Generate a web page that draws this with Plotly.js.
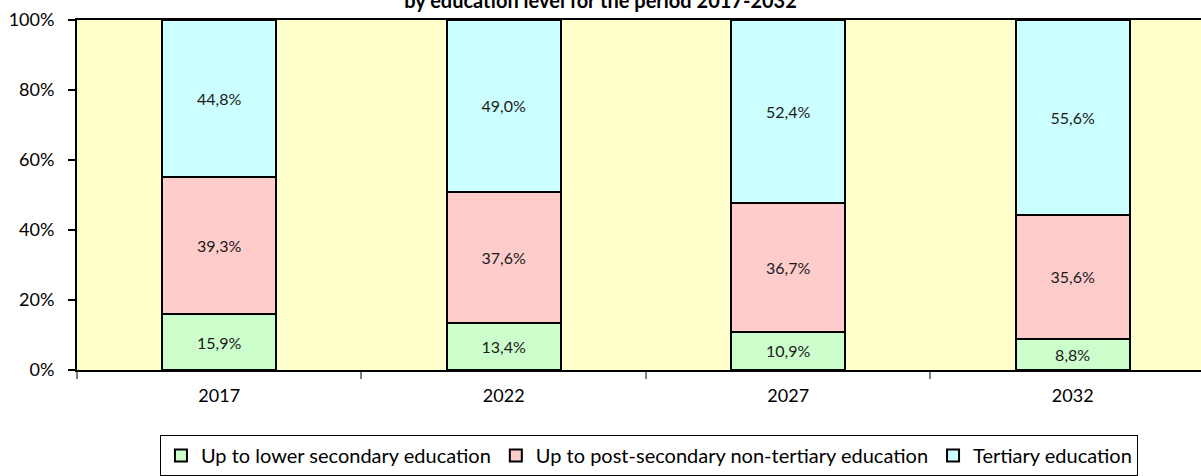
<!DOCTYPE html>
<html>
<head>
<meta charset="utf-8">
<script src="https://cdn.plot.ly/plotly-3.0.1.min.js"></script>
<style>html,body{margin:0;padding:0;background:#fff;overflow:hidden}</style>
</head>
<body>
<div id="chart" style="width:1201px;height:476px"></div>
<script>
const years = ['2017', '2022', '2027', '2032'];
const lowerSecondary = [15.9, 13.4, 10.9, 8.8];
const postSecondary = [39.3, 37.6, 36.7, 35.6];
const tertiary = [44.8, 49.0, 52.4, 55.6];
const seriesNames = ['Up to lower secondary education', 'Up to post-secondary non-tertiary education', 'Tertiary education'];
const yTicks = [0, 20, 40, 60, 80, 100];

const FONT = 'Lato, "Open Sans", sans-serif';
const colors = ['#ccffcc', '#ffcccc', '#ccffff'];
const vals = [lowerSecondary, postSecondary, tertiary];

const traces = vals.map((v, i) => ({
  type: 'bar',
  x: years,
  y: v,
  name: seriesNames[i],
  width: 0.4,
  marker: {color: colors[i], line: {color: '#000', width: 2}},
  texttemplate: '%{y:.1f}%',
  textposition: 'inside',
  insidetextanchor: 'middle',
  textangle: 0,
  constraintext: 'none',
  textfont: {family: FONT, size: 16, color: '#1a1a1a'},
  hoverinfo: 'skip'
}));

const layout = {
  width: 1201, height: 476,
  margin: {l: 77, r: 0, t: 20, b: 106},
  paper_bgcolor: '#ffffff',
  plot_bgcolor: '#ffffcc',
  barmode: 'stack',
  separators: ', ',
  font: {family: FONT, size: 18, color: '#000'},
  title: {
    text: '<b>by education level for the period 2017-2032</b>',
    font: {family: FONT, size: 20, color: '#000'},
    x: 0.5, xref: 'container', xanchor: 'center',
    y: 0.998, yref: 'container', yanchor: 'middle'
  },
  xaxis: {
    type: 'category',
    range: [-0.5, 3.451],
    tickson: 'boundaries',
    ticks: 'outside', ticklen: 7, tickwidth: 2, tickcolor: '#808080',
    showline: true, linecolor: '#000', linewidth: 2, mirror: true,
    showgrid: false, zeroline: false,
    ticklabelstandoff: 8,
    tickfont: {family: FONT, size: 18, color: '#000'}
  },
  yaxis: {
    range: [0, 100],
    tickvals: yTicks,
    ticktext: yTicks.map(t => t + '%'),
    ticks: 'outside', ticklen: 7, tickwidth: 2, tickcolor: '#000',
    showline: true, linecolor: '#000', linewidth: 2, mirror: false,
    showgrid: false, zeroline: false,
    ticklabelstandoff: 10,
    tickfont: {family: FONT, size: 18, color: '#000'}
  },
  showlegend: true,
  legend: {
    orientation: 'h',
    x: 0.0738, xanchor: 'left',
    y: -0.186, yanchor: 'top',
    bgcolor: '#fff', bordercolor: '#000', borderwidth: 1,
    traceorder: 'normal',
    font: {family: FONT, size: 20, color: '#000'}
  }
};

Plotly.newPlot('chart', traces, layout, {displayModeBar: false, staticPlot: true});
</script>
</body>
</html>
